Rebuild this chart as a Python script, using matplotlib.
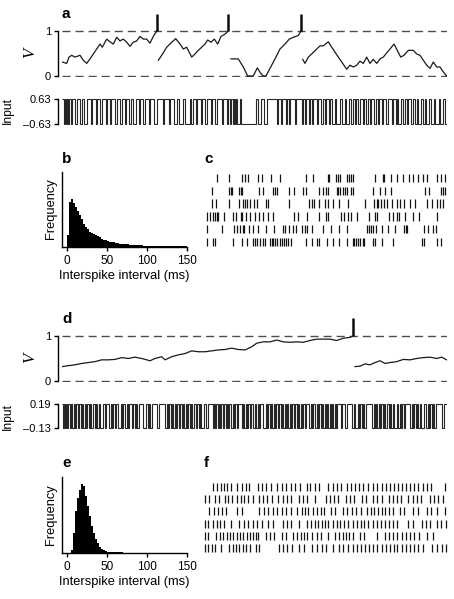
import numpy as np
import matplotlib.pyplot as plt

plt.rcParams['font.family'] = ['Liberation Sans', 'DejaVu Sans']
plt.rcParams['axes.linewidth'] = 1.0

# ---- panel a: membrane potential (segments between resets), time in ms-like units 0..385
a_v_t = [
    [0.3, 4.7, 7, 9.7, 13, 18, 21.3, 24.7, 28, 31.3, 34.7, 38, 40.3, 44.7, 48, 51.3, 54.7, 58,
     61.3, 64.7, 68, 71.3, 74.7, 78, 81.3, 84.7, 88, 91.3, 94.7],
    [96.3, 99.7, 104.7, 109.7, 113.7, 118, 121.3, 124.7, 129.7, 133, 136.3, 139.7, 143, 145.7,
     149, 152.3, 155.7, 159, 163, 166.3],
    [169, 176.3, 181.3, 185.7, 188, 191.3, 195.3, 198.7, 201.3, 204, 208, 213, 218, 223, 227.3,
     231.3, 236.3, 239],
    [240.7, 243, 246.3, 249.7, 254.7, 258, 261.3, 266.3, 269.7, 273, 276.3, 280.7, 284.7, 288,
     291.3, 294.7, 298, 301.3, 304.7, 308, 311.3, 314.7, 318, 321.3, 325.3, 328, 332, 335.3,
     338.7, 342, 346.3, 351.3, 354.7, 358, 361.3, 364.7, 368, 371.3, 374.7, 378, 381.3, 384.7],
]
a_v = [
    [0.31, 0.28, 0.42, 0.46, 0.42, 0.46, 0.35, 0.28, 0.38, 0.49, 0.60, 0.71, 0.64, 0.82, 0.76,
     0.71, 0.86, 0.78, 0.82, 0.75, 0.66, 0.75, 0.78, 0.88, 0.82, 0.82, 0.73, 0.88, 1.0],
    [0.35, 0.46, 0.64, 0.75, 0.83, 0.71, 0.60, 0.64, 0.42, 0.49, 0.57, 0.64, 0.71, 0.80, 0.75,
     0.82, 0.71, 0.88, 0.93, 1.0],
    [0.38, 0.38, 0.20, 0.0, 0.0, 0.0, 0.18, 0.06, 0.0, 0.0, 0.17, 0.38, 0.60, 0.71, 0.82, 0.86,
     0.90, 1.0],
    [0.37, 0.28, 0.42, 0.49, 0.60, 0.67, 0.67, 0.76, 0.64, 0.53, 0.42, 0.28, 0.15, 0.24, 0.20,
     0.24, 0.33, 0.28, 0.42, 0.28, 0.37, 0.28, 0.38, 0.42, 0.53, 0.60, 0.71, 0.57, 0.42, 0.46,
     0.57, 0.57, 0.49, 0.46, 0.35, 0.24, 0.17, 0.31, 0.20, 0.20, 0.09, 0.0],
]
a_spikes = [94.7, 166.3, 239]
a_spike_top = 1.38

# input a: durations of alternating high / low levels (starting high)
a_runs = [2, 1, 1, 1, 1, 1, 2, 1, 3, 2, 3, 2, 2, 3,
          4, 1, 4, 1, 3, 2, 4, 1, 3, 1, 4, 2,
          3, 2, 3, 1, 3, 2, 2, 3, 3, 1, 3, 2, 4, 1, 4, 3,
          6, 1, 5, 1, 4, 3, 2, 4, 2, 5, 1, 2,
          3, 1, 4, 1, 3, 2, 4, 1, 3, 2, 5, 1, 4, 1, 2, 1,
          2, 1, 1, 1, 1, 3, 1, 15, 2, 3, 3, 3,
          10, 1, 3, 1, 4, 1, 2, 1, 5, 1, 6, 1,
          2, 1, 3, 1, 2, 1, 4, 1, 3, 2, 2, 1, 3, 1, 2, 3, 1, 4, 2, 3, 1, 3,
          2, 2, 2, 1, 2, 2, 3, 1, 2, 2, 2, 1, 3, 2, 2, 1, 3, 1, 3, 2, 4, 1, 3, 1,
          1, 3, 2, 2, 2, 1, 3, 2, 2, 2, 1, 3, 2, 2, 1, 3, 2, 3, 1, 4, 1, 3, 2, 3]
a_levels = [0.63, -0.63]

# ---- panel d
d_v_t = [
    [0.3, 6.3, 13, 19.7, 26.3, 33, 39.7, 46.3, 53, 59.7, 66.3, 73, 79.7, 88, 93, 99.7, 103,
     109.7, 116.3, 123, 129.7, 136.3, 143, 149.7, 156.3, 163, 169.7, 176.3, 183, 189.7, 194.7,
     201.3, 208, 214.7, 221.3, 228, 234.7, 241.3, 248, 254.7, 261.3, 268, 274.7, 281.3, 288, 290.7],
    [293, 298, 303, 308, 313, 318, 323, 328, 334.7, 341.3, 348, 354.7, 361.3, 368, 374.7, 379.7, 384.7],
]
d_v = [
    [0.32, 0.34, 0.36, 0.39, 0.41, 0.43, 0.47, 0.47, 0.48, 0.52, 0.50, 0.53, 0.50, 0.45, 0.50,
     0.54, 0.47, 0.54, 0.58, 0.61, 0.67, 0.65, 0.65, 0.67, 0.69, 0.70, 0.73, 0.70, 0.69, 0.76,
     0.84, 0.87, 0.87, 0.91, 0.87, 0.86, 0.87, 0.86, 0.90, 0.93, 0.93, 0.93, 0.90, 0.95, 0.97, 1.0],
    [0.32, 0.33, 0.38, 0.36, 0.41, 0.45, 0.39, 0.41, 0.43, 0.48, 0.47, 0.50, 0.52, 0.53, 0.50, 0.53, 0.47],
]
d_spikes = [290.7]
d_spike_top = 1.41

d_runs = [1, 1, 1, 1, 1, 1, 2, 1, 1, 2, 1, 1, 2, 1, 2, 1, 1, 2, 1, 1, 2, 1, 1, 2, 2, 1, 1, 2, 1, 3,
          2, 1, 3, 2, 1, 1, 2, 1, 2, 3, 1, 1, 2, 2, 1, 1, 3, 1, 2, 1, 1, 2, 4, 3, 2, 1, 1, 2, 5, 2,
          6, 2, 1, 1, 2, 1, 1, 2, 1, 1, 2, 1, 2, 1, 1, 2, 1, 1, 2, 1, 1, 2, 2, 1, 2, 1, 1, 3, 2, 2,
          5, 1, 1, 1, 2, 1, 1, 1, 2, 1, 2, 1, 1, 1, 2, 2, 1, 1, 2, 1, 4, 1, 1, 2, 1, 1, 2, 1, 2, 2,
          1, 2, 1, 1, 3, 3,
          1, 1, 2, 1, 1, 2, 1, 1, 2, 1, 2, 1, 1, 2, 1, 1, 1, 2, 1, 1, 2, 1, 2, 1, 1, 2, 1, 1, 2, 1,
          3, 2, 1, 1, 2, 2, 1, 1, 2, 1, 1, 2,
          1, 1, 1, 2, 1, 1, 1, 2, 1, 1, 4, 1, 3, 2, 5, 2, 1, 3, 1, 1, 2, 1, 1, 2, 6, 2, 1, 1,
          1, 2, 1, 1, 2, 1, 1, 2, 2, 1, 1, 2, 1, 3, 1, 2, 1, 1, 2, 1, 5, 2, 1, 1, 2, 1, 1, 2, 1, 3,
          2, 2, 1, 1, 2, 1, 1, 2, 6, 2, 3]
d_levels = [0.19, -0.13]

# ---- ISI histograms (2.5 ms bins from 0 to 150 ms)
isi_edges = np.arange(0, 152.5, 2.5)
b_counts = [35, 135, 142, 132, 120, 108, 96, 82, 68, 60, 52, 44, 40, 38, 36, 33, 28, 24, 21, 19,
            17, 15, 14, 13, 11, 10, 9, 9, 8, 7, 7, 6, 6, 5, 5, 4, 4, 4, 3, 3,
            3, 2, 2, 2, 2, 2, 2, 2, 1, 1, 1, 1, 1, 1, 1, 1, 1, 1, 1, 1]
e_counts = [0, 0, 8, 60, 125, 165, 188, 205, 200, 170, 140, 110, 80, 58, 42, 28, 18, 12, 8, 5,
            3, 2, 2, 1, 1, 1, 1, 1, 0, 0, 0, 0, 0, 0, 0, 0, 0, 0, 0, 0,
            0, 0, 0, 0, 0, 0, 0, 0, 0, 0, 0, 0, 0, 0, 0, 0, 0, 0, 0, 0]

# ---- spike rasters (6 trials each)
c_trials = [
    [16.7, 29.3, 41.7, 45, 48.3, 58.3, 61.7, 71, 80, 106, 113.3, 127.7, 129, 136, 138, 140, 147.3,
     149, 150.7, 152.7, 175, 182.7, 184.3, 191, 196.7, 202.7, 209.3, 213.3, 218.3, 222.7, 226.7,
     237.3, 240.7, 245],
    [11.7, 29.3, 30.7, 32.3, 39.3, 40.7, 42.3, 59.3, 62.7, 73.3, 75, 77.3, 89.3, 94, 103.3, 106,
     119.3, 122.7, 126, 128.3, 136.7, 138.3, 140, 142.7, 145, 146.7, 150.7, 152.7, 173.3, 180, 185,
     190.7, 225, 229.3, 240.7, 242.7, 245],
    [11.7, 16, 29.3, 39.3, 42.7, 45, 46.7, 50, 54, 57.3, 66, 68.3, 89.3, 109.3, 111.7, 114, 119.3,
     125, 128.3, 132.7, 139.3, 148.3, 165, 174, 176.7, 178.3, 180.7, 184, 186.7, 191.7, 196.7, 200,
     204, 210, 215, 226.7, 231.7, 236.7, 240, 243.3],
    [7.3, 10, 12.7, 15, 17.3, 18.3, 24, 32.7, 36, 40.7, 41.7, 46, 50, 55, 59.3, 63.3, 68.3, 72.7,
     94, 98.3, 106.7, 119.3, 126, 128.3, 140.7, 144, 148.3, 150.7, 156.7, 169.3, 175, 176.7, 189.3,
     192.7, 196.7, 199.3, 205, 212.7, 219.3, 237.3],
    [6.7, 21.7, 34, 36.7, 40, 42.7, 44, 49.3, 53.3, 58.3, 66, 74, 82.7, 85, 89.3, 93.3, 96, 101.7,
     105, 106.7, 111.7, 122.7, 130.7, 139.3, 146.7, 166.7, 169.3, 170.7, 173.3, 176, 181.7, 188.3,
     195, 204, 206, 207.3, 224, 228.3, 233.3, 236],
    [6.7, 12.7, 15, 33.3, 41.7, 46.7, 52.7, 55, 57.3, 60, 63.3, 65, 70, 71.7, 73.3, 75, 77.3, 80,
     81.7, 84, 86, 88.3, 90.7, 106, 111.7, 116.7, 119.3, 127.3, 132.7, 139.3, 146.7, 152.7, 154,
     156, 158.3, 160, 162.7, 164, 173.3, 175, 181.7, 193.3, 221.7, 224, 237.3, 240.7],
]
f_trials = [
    [12.7, 16.7, 20.7, 24, 26.7, 30.7, 37.3, 41.7, 46, 49.3, 58.3, 61.7, 66, 70.7, 77.3, 81.7, 86,
     90.7, 95, 100, 106.7, 110, 115, 119.3, 128.3, 132.7, 136.7, 140.7, 146.7, 150.7, 155, 159.3,
     163.3, 168.3, 172.7, 177.3, 181.7, 186, 190, 194, 198, 202, 206, 210, 214, 218.3, 222.7, 226.7,
     231, 245],
    [5, 9.3, 15, 19.3, 25, 28.3, 31.7, 36.7, 40.7, 44.3, 48.3, 52.7, 59.3, 63.3, 67.3, 71.7, 78.3,
     82.7, 86.7, 90.7, 99.3, 103.3, 107.3, 115, 126, 130, 134, 138.3, 146, 150, 154, 161.7, 166,
     172.7, 176.7, 181.7, 189.3, 193.3, 197.3, 201.3, 208.3, 212.7, 216.7, 220.7, 230, 234, 238.3,
     242.7],
    [9.3, 14, 18.3, 21.7, 26, 37.3, 41.7, 59.3, 64, 68.3, 72.7, 77.3, 81.7, 86, 90.7, 96.7, 101.7,
     105, 108.3, 112.7, 116.7, 120.7, 124, 130.7, 135, 143.3, 147.3, 151.7, 156, 160.7, 166.7,
     170.7, 174, 178.3, 181.7, 185, 189.3, 193.3, 200, 204, 213.3, 218.3, 226.7, 230.7, 237.3, 245],
    [5, 8.3, 12.7, 16.7, 20, 24, 30.7, 39.3, 44, 48.3, 52.7, 57.3, 61.7, 68.3, 73.3, 82.7, 87.3,
     90.7, 99.3, 106.7, 110.7, 115, 118.3, 121.7, 125, 128.3, 133.3, 136.7, 140, 144, 148.3, 152.7,
     156.7, 160.7, 164, 168.3, 172.7, 176.7, 180.7, 185, 189.3, 192.7, 196.7, 208.3, 212.7, 221.7,
     226, 230, 237.3, 240.7, 246],
    [5, 8.3, 16, 20, 23.3, 26.7, 30, 33.3, 36.7, 40, 43.3, 46.7, 50, 53.3, 56, 58.3, 66, 70, 74,
     81.7, 86, 92.7, 96.7, 100.7, 104, 107.3, 111.7, 116.7, 120.7, 128.3, 135, 139.3, 142.7, 146,
     149.3, 153.3, 160, 164, 176.7, 185, 189.3, 193.3, 197.3, 201.7, 206, 210, 214, 219.3, 226.7,
     233.3],
    [5, 8.3, 11.7, 15, 20.7, 29.3, 32.7, 36, 39.3, 42.7, 46, 50, 56, 59.3, 79.3, 83.3, 87.3, 91.7,
     99.3, 104, 111.7, 117.3, 121.7, 126, 132.7, 139.3, 143.3, 148.3, 152.7, 156.7, 160.7, 165,
     169.3, 173.3, 177.3, 181.7, 186, 190, 194, 197.3, 201.7, 206, 210, 214, 218.3, 223.3, 231.7,
     237.3, 241.7, 246],
]

W, H = 454, 599
fig = plt.figure(figsize=(W / 100, H / 100), dpi=100)


def px_axes(x0, y0, x1, y1):
    return fig.add_axes([x0 / W, 1 - y1 / H, (x1 - x0) / W, (y1 - y0) / H])


def left_only(ax, lo, hi, ticks, labels):
    for s in ['top', 'right', 'bottom']:
        ax.spines[s].set_visible(False)
    ax.spines['left'].set_bounds(lo, hi)
    ax.spines['left'].set_position(('outward', 3))
    ax.set_xticks([])
    ax.set_yticks(ticks)
    ax.set_yticklabels(labels)
    ax.tick_params(axis='y', direction='out', length=3, width=1, labelsize=8, pad=2)


def voltage_panel(ax, seg_t, seg_v, spikes, top):
    ax.set_xlim(0, 385)
    for y in (0, 1):
        ax.axhline(y, color='0.3', lw=1.0, dashes=(5.8, 3.6), zorder=1)
    for t, v in zip(seg_t, seg_v):
        ax.plot(t, v, color='0.1', lw=0.9, zorder=2)
    ax.vlines(spikes, 1, top, color='0.05', lw=1.8, zorder=3)
    left_only(ax, 0, 1, [0, 1], ['0', '1'])


def input_panel(ax, runs, levels):
    edges = np.concatenate([[0], np.cumsum(runs)])
    vals = np.array([levels[i % 2] for i in range(len(runs))])
    keep = edges[:-1] < 385
    e = np.minimum(edges[:len(runs) + 1], 385)
    ax.stairs(vals[keep], e[:keep.sum() + 1], baseline=None, color='0.15', lw=0.8)
    ax.set_xlim(0, 385)
    left_only(ax, levels[1], levels[0], levels,
              ['%.2f' % levels[0], '\u2013%.2f' % abs(levels[1])])


def hist_panel(ax, counts, top):
    ax.stairs(counts, isi_edges, fill=True, color='k', lw=0)
    ax.set_xlim(-6, 150)
    ax.set_ylim(0, top)
    ax.spines['top'].set_visible(False)
    ax.spines['right'].set_visible(False)
    ax.spines['bottom'].set_bounds(-6, 150)
    ax.set_yticks([])
    ax.set_xticks([0, 50, 100, 150])
    ax.tick_params(axis='x', direction='out', length=3, width=1, labelsize=8.5, pad=3)
    ax.set_xlabel('Interspike interval (ms)', fontsize=9.3, labelpad=2)


def raster_panel(ax, trials):
    ax.eventplot(trials, lineoffsets=range(len(trials)), linelengths=0.65,
                 linewidths=0.9, colors='0.08')
    ax.set_xlim(0, 250)
    ax.set_ylim(5.6, -0.6)
    ax.axis('off')


# panel a
ax = px_axes(62, 12.1, 447, 76.9)
ax.set_ylim(-0.02, 1.42)
voltage_panel(ax, a_v_t, a_v, a_spikes, a_spike_top)
ax = px_axes(62, 97.6, 447, 125.4)
ax.set_ylim(-0.7, 0.7)
input_panel(ax, a_runs, a_levels)

# panel b, c
ax = px_axes(61.9, 171.7, 186.7, 246.7)
hist_panel(ax, b_counts, 225)
ax = px_axes(200, 178 - 7.7, 450, 242 + 7.7)
raster_panel(ax, c_trials)

# panel d
ax = px_axes(62, 315.75, 447, 381.9)
ax.set_ylim(-0.02, 1.45)
voltage_panel(ax, d_v_t, d_v, d_spikes, d_spike_top)
ax = px_axes(62, 402.5, 447, 429.5)
ax.set_ylim(-0.15, 0.21)
input_panel(ax, d_runs, d_levels)

# panel e, f
ax = px_axes(61.9, 477.3, 186.7, 552.7)
hist_panel(ax, e_counts, 226)
ax = px_axes(200, 487 - 7.3, 450, 548 + 7.3)
raster_panel(ax, f_trials)

# axis labels placed by pixel position
def ftext(x, y, s, **kw):
    fig.text(x / W, 1 - y / H, s, **kw)

for x, y, s in [(62, 18, 'a'), (62, 163, 'b'), (204, 163, 'c'),
                (62, 323, 'd'), (62, 467, 'e'), (204, 467, 'f')]:
    ftext(x, y, s, fontsize=11, fontweight='bold', va='baseline')

for y in (53, 358):
    ftext(30, y, 'V', fontsize=12, rotation=90, ha='center', va='center',
          family='Liberation Serif', style='italic')
for y in (111, 416):
    ftext(8, y, 'Input', fontsize=8.7, rotation=90, ha='center', va='center')
for y in (209, 515):
    ftext(50.5, y, 'Frequency', fontsize=9.3, rotation=90, ha='center', va='center')

fig.savefig('out.png', dpi=100)
